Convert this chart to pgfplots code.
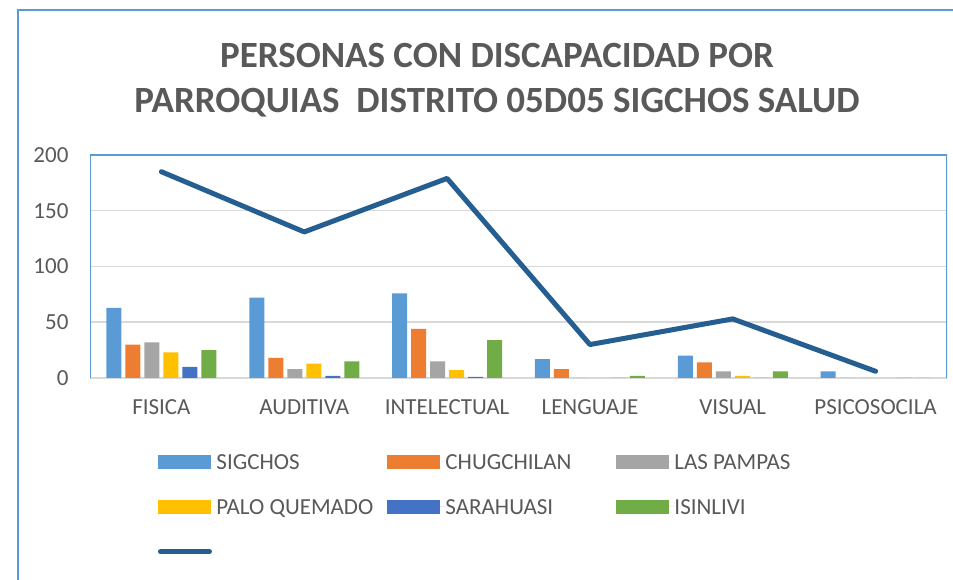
\documentclass[border=0pt]{standalone}
\usepackage{pgfplots}
\pgfplotsset{compat=1.18}
\usepackage{fontspec}
\setmainfont{Carlito}
\definecolor{txt}{RGB}{89,89,89}
\definecolor{frameblue}{RGB}{91,155,213}
\definecolor{gridc}{RGB}{217,217,217}
\definecolor{cSig}{RGB}{91,155,213}
\definecolor{cChu}{RGB}{237,125,49}
\definecolor{cLas}{RGB}{165,165,165}
\definecolor{cPal}{RGB}{255,192,0}
\definecolor{cSar}{RGB}{68,114,196}
\definecolor{cIsi}{RGB}{112,173,71}
\definecolor{cLine}{RGB}{37,94,145}
\pgfplotsset{
  barleg/.style={legend image code/.code={\fill[##1] (0pt,-7pt) rectangle (53pt,7pt); \path (0pt,0pt) -- (58pt,0pt);}},
  lineleg/.style={legend image code/.code={\draw[##1] (2pt,0pt) -- (51pt,0pt);}},
}
\newcommand{\legtxt}[1]{\makebox[171pt][l]{#1}}
\pgfplotstableread{
x sig chu las pal sar isi tot
0 63 30 32 23 10 25 185
1 72 18 8 13 2 15 131
2 76 44 15 7 1 34 179
3 17 8 0 0 0 2 30
4 20 14 6 2 0 6 53
5 6 0 0 0 0 0 6
}\datatable
\begin{document}
\begin{tikzpicture}
\useasboundingbox (0,0) rectangle (953pt,580pt);
\draw[frameblue, line width=1.5pt] (18pt,0pt) -- (18pt,570pt) -- (953pt,570pt);
\node[font=\fontsize{37}{45}\selectfont\bfseries, text=txt, align=center] at (497pt,500pt)
  {PERSONAS CON DISCAPACIDAD POR\\PARROQUIAS\ \ DISTRITO 05D05 SIGCHOS SALUD};
\begin{axis}[
  at={(90pt,202pt)}, anchor=south west,
  scale only axis, width=857pt, height=223pt,
  xmin=-0.5, xmax=5.5, ymin=0, ymax=200,
  axis line style={draw=none},
  xtick={0,1,2,3,4,5},
  xticklabels={FISICA,AUDITIVA,INTELECTUAL,LENGUAJE,VISUAL,PSICOSOCILA},
  ytick={0,50,100,150,200},
  major tick length=0pt,
  ymajorgrids, grid style={draw=gridc, line width=1.5pt},
  /pgf/number format/assume math mode=true,
  tick label style={font=\fontsize{23}{27}\selectfont, text=txt},
  xticklabel style={yshift=-18pt},
  yticklabel style={xshift=-18pt},
  legend columns=3,
  legend style={draw=none, fill=none, at={(axis description cs:0.0793,-0.341)}, anchor=north west,
    inner sep=0pt, outer sep=0pt, column sep=0pt, row sep=30pt,
    font=\fontsize{23}{27}\selectfont, text=txt,
    nodes={inner sep=0pt, text height=15pt, text depth=0pt}},
  legend cell align=left,
]
\addplot[ybar, bar width=15pt, bar shift=-47.5pt, fill=cSig, draw=none, barleg] table[x=x,y=sig]{\datatable};
\addlegendentry{\legtxt{SIGCHOS}}
\addplot[ybar, bar width=15pt, bar shift=-28.5pt, fill=cChu, draw=none, barleg] table[x=x,y=chu]{\datatable};
\addlegendentry{\legtxt{CHUGCHILAN}}
\addplot[ybar, bar width=15pt, bar shift=-9.5pt, fill=cLas, draw=none, barleg] table[x=x,y=las]{\datatable};
\addlegendentry{\legtxt{LAS PAMPAS}}
\addplot[ybar, bar width=15pt, bar shift=9.5pt, fill=cPal, draw=none, barleg] table[x=x,y=pal]{\datatable};
\addlegendentry{\legtxt{PALO QUEMADO}}
\addplot[ybar, bar width=15pt, bar shift=28.5pt, fill=cSar, draw=none, barleg] table[x=x,y=sar]{\datatable};
\addlegendentry{\legtxt{SARAHUASI}}
\addplot[ybar, bar width=15pt, bar shift=47.5pt, fill=cIsi, draw=none, barleg] table[x=x,y=isi]{\datatable};
\addlegendentry{\legtxt{ISINLIVI}}
\addplot[sharp plot, no markers, draw=cLine, line width=5pt, line cap=round, line join=round, lineleg] table[x=x,y=tot]{\datatable};
\addlegendentry{\legtxt{}}
\draw[frameblue, line width=1.5pt] (rel axis cs:0,0) -- (rel axis cs:0,1) -- (rel axis cs:1,1) -- (rel axis cs:1,0);
\end{axis}
\end{tikzpicture}
\end{document}
